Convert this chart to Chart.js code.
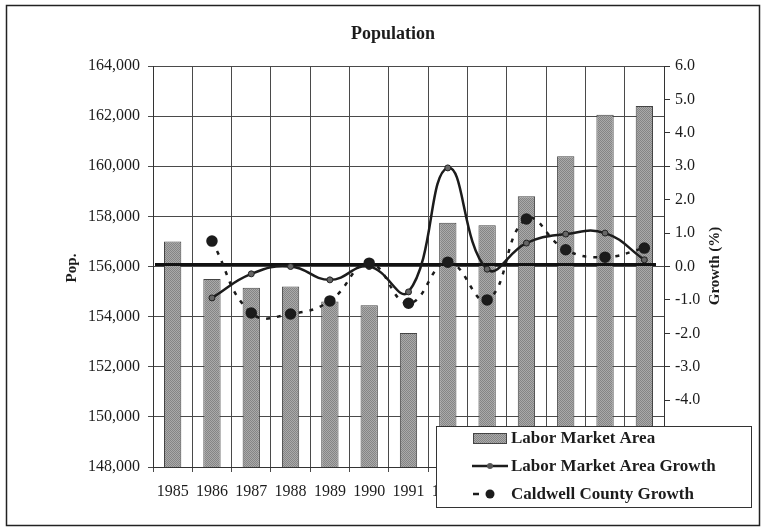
<!DOCTYPE html>
<html>
<head>
<meta charset="utf-8">
<title>Population</title>
<script src="https://cdn.jsdelivr.net/npm/chart.js@4.4.0/dist/chart.umd.min.js"></script>
<style>
  html, body { margin: 0; padding: 0; background: #fff; }
  #wrap { position: relative; width: 765px; height: 529px; }
</style>
</head>
<body>
<div id="wrap"><canvas id="popChart" width="765" height="529"></canvas></div>
<script>
// values
const years = ['1985','1986','1987','1988','1989','1990','1991','1992','1993','1994','1995','1996','1997'];
const laborPop = [157000, 155500, 155150, 155200, 154600, 154450, 153350, 157750, 157650, 158800, 160400, 162050, 162400];
const laborGrowth = [null, -0.94, -0.22, 0.0, -0.4, 0.0, -0.76, 2.95, -0.08, 0.7, 0.97, 1.0, 0.2];
const caldwellGrowth = [null, 0.76, -1.39, -1.42, -1.03, 0.1, -1.1, 0.13, -1.0, 1.42, 0.5, 0.28, 0.55];
const seriesNames = ['Labor Market Area', 'Labor Market Area Growth', 'Caldwell County Growth'];

const serif = '"Liberation Serif", "Times New Roman", serif';
const ink = '#1c1c1c';

// dithered grey like the printed bars
function barPattern() {
  const c = document.createElement('canvas');
  c.width = 2; c.height = 2;
  const g = c.getContext('2d');
  g.fillStyle = '#aaaaaa'; g.fillRect(0, 0, 2, 2);
  g.fillStyle = '#858585'; g.fillRect(0, 0, 1, 1); g.fillRect(1, 1, 1, 1);
  return g.createPattern(c, 'repeat');
}
const barFill = barPattern();

// zero growth line sits above the bars but under the lines
const zeroLine = {
  id: 'zeroLine',
  afterDatasetDraw(chart, args) {
    if (args.index !== 0) return;
    const {ctx, chartArea} = chart;
    const y = chart.scales.y2.getPixelForValue(0) - 2;
    ctx.save();
    ctx.strokeStyle = '#111';
    ctx.lineWidth = 3;
    ctx.beginPath();
    ctx.moveTo(chartArea.left + 2, y);
    ctx.lineTo(chartArea.right - 8, y);
    ctx.stroke();
    ctx.restore();
  }
};

// title, axis titles, frame and the boxed legend
const decorations = {
  id: 'decorations',
  afterDraw(chart) {
    const ctx = chart.ctx;
    ctx.save();
    ctx.fillStyle = ink;
    ctx.textAlign = 'center';
    ctx.textBaseline = 'middle';

    ctx.font = 'bold 18px ' + serif;
    ctx.fillText('Population', 393, 34);

    ctx.font = 'bold 15px ' + serif;
    ctx.save();
    ctx.translate(72, 268);
    ctx.rotate(-Math.PI / 2);
    ctx.fillText('Pop.', 0, 0);
    ctx.restore();
    ctx.save();
    ctx.translate(715, 266);
    ctx.rotate(-Math.PI / 2);
    ctx.fillText('Growth (%)', 0, 0);
    ctx.restore();

    // outer frame
    ctx.strokeStyle = '#222';
    ctx.lineWidth = 1.5;
    ctx.strokeRect(6.5, 5.5, 753, 520);

    // legend box
    ctx.fillStyle = '#fff';
    ctx.fillRect(436, 426, 316, 82);
    ctx.strokeStyle = '#333';
    ctx.lineWidth = 1;
    ctx.strokeRect(436.5, 426.5, 315, 81);

    const rows = [438, 466, 494];
    // bar swatch
    ctx.fillStyle = barFill;
    ctx.fillRect(473, rows[0] - 5, 34, 11);
    ctx.strokeStyle = '#444';
    ctx.strokeRect(473.5, rows[0] - 4.5, 33, 10);
    // solid line swatch
    ctx.strokeStyle = ink;
    ctx.lineWidth = 2.5;
    ctx.beginPath();
    ctx.moveTo(472, rows[1]);
    ctx.lineTo(508, rows[1]);
    ctx.stroke();
    ctx.fillStyle = '#555';
    ctx.beginPath();
    ctx.arc(490, rows[1], 3, 0, Math.PI * 2);
    ctx.fill();
    // dotted swatch
    ctx.beginPath();
    ctx.moveTo(473, rows[2]);
    ctx.lineTo(479, rows[2]);
    ctx.stroke();
    ctx.fillStyle = ink;
    ctx.beginPath();
    ctx.arc(490, rows[2], 4.5, 0, Math.PI * 2);
    ctx.fill();

    ctx.fillStyle = ink;
    ctx.textAlign = 'left';
    ctx.font = 'bold 17px ' + serif;
    seriesNames.forEach((name, i) => ctx.fillText(name, 511, rows[i] + 1));
    ctx.restore();
  }
};

new Chart(document.getElementById('popChart'), {
  data: {
    labels: years,
    datasets: [
      {
        type: 'bar',
        label: seriesNames[0],
        data: laborPop,
        yAxisID: 'y',
        backgroundColor: barFill,
        borderColor: '#444',
        borderWidth: 1,
        barPercentage: 0.44,
        categoryPercentage: 1,
        order: 3
      },
      {
        type: 'line',
        label: seriesNames[1],
        data: laborGrowth,
        yAxisID: 'y2',
        borderColor: ink,
        borderWidth: 2.5,
        tension: 0.45,
        pointRadius: 3,
        pointBackgroundColor: '#666',
        pointBorderColor: '#222',
        pointBorderWidth: 1,
        order: 2
      },
      {
        type: 'line',
        label: seriesNames[2],
        data: caldwellGrowth,
        yAxisID: 'y2',
        borderColor: ink,
        borderWidth: 2.5,
        borderDash: [4, 7],
        tension: 0.45,
        pointRadius: 4.5,
        pointBackgroundColor: ink,
        pointBorderColor: ink,
        order: 1
      }
    ]
  },
  options: {
    responsive: false,
    animation: false,
    devicePixelRatio: 1,
    layout: { padding: { top: 66, left: 0, right: 0, bottom: 0 } },
    plugins: {
      legend: { display: false },
      title: { display: false },
      tooltip: { enabled: false }
    },
    scales: {
      x: {
        offset: true,
        grid: { offset: true, color: '#4a4a4a', lineWidth: 1, tickLength: 5, tickColor: '#4a4a4a' },
        border: { color: '#333' },
        ticks: { color: ink, font: { family: serif, size: 16 }, padding: 10, maxRotation: 0, autoSkip: false },
        afterFit(scale) { scale.height = 62; }
      },
      y: {
        position: 'left',
        min: 148000,
        max: 164000,
        grid: { color: '#4a4a4a', lineWidth: 1, tickLength: 5, tickColor: '#4a4a4a' },
        border: { color: '#333' },
        ticks: {
          stepSize: 2000,
          color: ink,
          padding: 8,
          font: { family: serif, size: 16 },
          callback: v => v.toLocaleString('en-US')
        },
        afterFit(scale) { scale.width = 153; }
      },
      y2: {
        position: 'right',
        min: -6,
        max: 6,
        grid: { drawOnChartArea: false, tickLength: 6, tickColor: '#333' },
        border: { color: '#333' },
        ticks: {
          stepSize: 1,
          color: ink,
          padding: 5,
          font: { family: serif, size: 16 },
          callback: v => v.toFixed(1)
        },
        afterFit(scale) { scale.width = 101; }
      }
    }
  },
  plugins: [zeroLine, decorations]
});
</script>
</body>
</html>
